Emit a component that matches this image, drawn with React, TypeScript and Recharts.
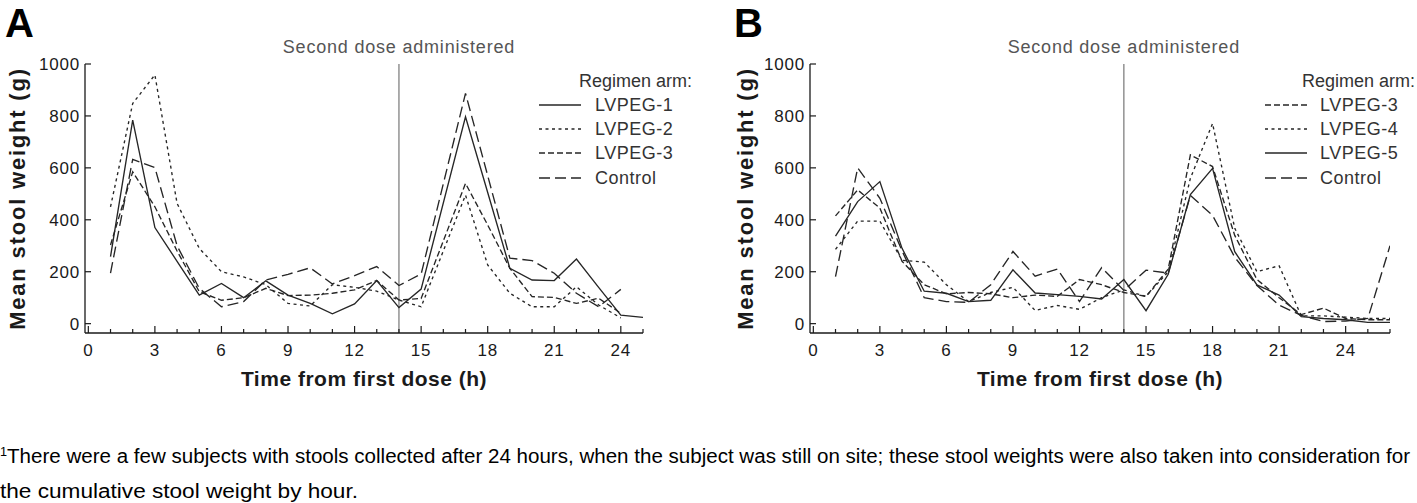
import React from 'react';
import { LineChart, Line, XAxis, YAxis, ReferenceLine, Label } from 'recharts';

const FONT = '"Liberation Sans", Arial, Helvetica, sans-serif';
const INK = '#1a1a1a';
const LINE = '#262626';

// dash styles used by both panels
const SOLID = undefined;
const SHORT = '3 3.5';
const MEDIUM = '6 3';
const LONG = '11 5';

// Panel A – hours 1..25 (nothing plotted at 16 h)
const hoursA = [1, 2, 3, 4, 5, 6, 7, 8, 9, 10, 11, 12, 13, 14, 15, 16, 17, 18, 19, 20, 21, 22, 23, 24, 25];
const lvpeg1A = [258, 784, 370, 240, 110, 155, 100, 165, 110, 78, 38, 76, 166, 62, 133, null, 797, 505, 213, 168, 166, 249, 140, 33, 24];
const lvpeg2A = [450, 848, 958, 463, 290, 200, 180, 150, 78, 68, 150, 140, 125, 91, 65, null, 495, 226, 117, 65, 65, 142, 72, 22, null];
const lvpeg3A = [303, 585, 450, 280, 123, 90, 100, 136, 108, 110, 117, 130, 166, 91, 97, null, 540, 380, 213, 104, 101, 78, 98, 40, null];
const controlA = [195, 633, 601, 300, 136, 65, 85, 168, 190, 215, 153, 185, 220, 147, 191, null, 887, 570, 252, 243, 194, 117, 65, 132, null];

// Panel B – hours 1..26
const hoursB = [1, 2, 3, 4, 5, 6, 7, 8, 9, 10, 11, 12, 13, 14, 15, 16, 17, 18, 19, 20, 21, 22, 23, 24, 25, 26];
const lvpeg3B = [415, 515, 445, 240, 150, 115, 120, 115, 100, 110, 105, 170, 150, 120, 105, 210, 650, 605, 340, 170, 100, 35, 60, 20, 15, 15];
const lvpeg4B = [286, 395, 395, 244, 237, 150, 85, 120, 140, 51, 70, 55, 100, 130, 105, 200, 560, 771, 367, 200, 223, 30, 30, 25, 20, 20];
const lvpeg5B = [337, 470, 547, 290, 125, 117, 85, 90, 207, 118, 112, 105, 95, 170, 50, 190, 497, 598, 277, 149, 110, 27, 20, 15, 5, 5];
const controlB = [181, 600, 483, 280, 100, 85, 82, 150, 278, 183, 210, 85, 216, 128, 206, 195, 494, 417, 256, 147, 71, 32, 8, 10, 20, 300];

const xTicksA = [0, 1, 2, 3, 4, 5, 6, 7, 8, 9, 10, 11, 12, 13, 14, 15, 16, 17, 18, 19, 20, 21, 22, 23, 24, 25];
const xTicksB = [0, 1, 2, 3, 4, 5, 6, 7, 8, 9, 10, 11, 12, 13, 14, 15, 16, 17, 18, 19, 20, 21, 22, 23, 24, 25, 26];
const yTicks = [0, 200, 400, 600, 800, 1000];

const seriesA = [
  { key: 'lvpeg1', name: 'LVPEG-1', values: lvpeg1A, dash: SOLID },
  { key: 'lvpeg2', name: 'LVPEG-2', values: lvpeg2A, dash: SHORT },
  { key: 'lvpeg3', name: 'LVPEG-3', values: lvpeg3A, dash: MEDIUM },
  { key: 'control', name: 'Control', values: controlA, dash: LONG },
];
const seriesB = [
  { key: 'lvpeg3', name: 'LVPEG-3', values: lvpeg3B, dash: MEDIUM },
  { key: 'lvpeg4', name: 'LVPEG-4', values: lvpeg4B, dash: SHORT },
  { key: 'lvpeg5', name: 'LVPEG-5', values: lvpeg5B, dash: SOLID },
  { key: 'control', name: 'Control', values: controlB, dash: LONG },
];

type Series = { key: string; name: string; values: (number | null)[]; dash?: string };

const buildRows = (hours: number[], series: Series[]) =>
  hours.map((h, i) => {
    const row: Record<string, number | null> = { h };
    series.forEach((s) => {
      row[s.key] = s.values[i];
    });
    return row;
  });

const XTick = (props: any) => {
  const { x, y, payload } = props;
  const h = payload.value;
  const major = h % 3 === 0;
  return (
    <g>
      <line x1={x} x2={x} y1={y} y2={y - (major ? 7 : 4)} stroke={INK} strokeWidth={1.2} />
      {major && h <= 24 ? (
        <text x={x} y={y + 23} textAnchor="middle" fontSize={17} fill={INK} fontFamily={FONT} style={{ letterSpacing: 0.8 }}>
          {h}
        </text>
      ) : null}
    </g>
  );
};

const YTick = (props: any) => {
  const { x, y, payload } = props;
  return (
    <g>
      <line x1={x} x2={x + 6} y1={y} y2={y} stroke={INK} strokeWidth={1.2} />
      <text x={x - 5} y={y + 6} textAnchor="end" fontSize={17} fill={INK} fontFamily={FONT} style={{ letterSpacing: 0.8 }}>
        {payload.value}
      </text>
    </g>
  );
};

function Panel({
  series,
  hours,
  xTicks,
  xMax,
  left,
  width,
  rightMargin,
  titleOffset,
}: {
  series: Series[];
  hours: number[];
  xTicks: number[];
  xMax: number;
  left: number;
  width: number;
  rightMargin: number;
  titleOffset: number;
}) {
  const rows = buildRows(hours, series);
  return (
    <div style={{ position: 'absolute', left, top: 0 }}>
      <LineChart width={width} height={400} data={rows} margin={{ top: 64, right: rightMargin, bottom: 7, left: 0 }}>
        <XAxis
          dataKey="h"
          type="number"
          domain={[-0.15, xMax]}
          ticks={xTicks}
          interval={0}
          allowDataOverflow
          height={60}
          tickSize={0}
          tickMargin={0}
          tickLine={false}
          tick={<XTick />}
          axisLine={{ stroke: INK, strokeWidth: 1.3 }}
        >
          <Label
            value="Time from first dose (h)"
            position="insideBottom"
            offset={7}
            style={{ fontFamily: FONT, fontSize: 21, fontWeight: 'bold', fill: INK, letterSpacing: 0.5 }}
          />
        </XAxis>
        <YAxis
          type="number"
          domain={[-36, 1000]}
          ticks={yTicks}
          interval={0}
          allowDataOverflow
          width={85}
          tickSize={0}
          tickMargin={0}
          tickLine={false}
          tick={<YTick />}
          axisLine={{ stroke: INK, strokeWidth: 1.3 }}
        >
          <Label
            value="Mean stool weight (g)"
            angle={-90}
            position="insideLeft"
            offset={titleOffset}
            style={{ fontFamily: FONT, fontSize: 22, fontWeight: 'bold', fill: INK, textAnchor: 'middle', letterSpacing: 1.8 }}
          />
        </YAxis>
        <ReferenceLine
          x={14}
          stroke="#8a8a8a"
          strokeWidth={1.4}
          label={{
            value: 'Second dose administered',
            position: 'top',
            offset: 11,
            style: { fontFamily: FONT, fontSize: 18, fill: '#555', letterSpacing: 0.8 },
          }}
        />
        {series.map((s) => (
          <Line
            key={s.key}
            dataKey={s.key}
            type="linear"
            stroke={LINE}
            strokeWidth={1.35}
            strokeDasharray={s.dash}
            dot={false}
            connectNulls
            isAnimationActive={false}
          />
        ))}
      </LineChart>
    </div>
  );
}

function LegendBlock({ series, headerX, lineX, textX }: { series: Series[]; headerX: number; lineX: number; textX: number }) {
  const rowY = [105, 129, 153, 178];
  return (
    <g fontFamily={FONT} fontSize={18} fill="#333">
      <text x={headerX} y={87}>Regimen arm:</text>
      {series.map((s, i) => (
        <g key={s.key}>
          <line x1={lineX} x2={lineX + 42} y1={rowY[i]} y2={rowY[i]} stroke={LINE} strokeWidth={1.3} strokeDasharray={s.dash} />
          <text x={textX} y={rowY[i] + 6} style={{ letterSpacing: 0.5 }}>{s.name}</text>
        </g>
      ))}
    </g>
  );
}

export default function App() {
  return (
    <div style={{ position: 'absolute', left: 0, top: 0, width: 1417, height: 503, background: '#fff', overflow: 'hidden' }}>
      <Panel series={seriesA} hours={hoursA} xTicks={xTicksA} xMax={25} left={0} width={710} rightMargin={67} titleOffset={17} />
      <Panel series={seriesB} hours={hoursB} xTicks={xTicksB} xMax={26} left={725} width={692} rightMargin={27} titleOffset={20} />
      <svg width={1417} height={503} style={{ position: 'absolute', left: 0, top: 0, pointerEvents: 'none' }}>
        <text x={5} y={37} fontFamily={FONT} fontSize={40} fontWeight="bold" fill="#000">A</text>
        <text x={734} y={37} fontFamily={FONT} fontSize={40} fontWeight="bold" fill="#000">B</text>
        <LegendBlock series={seriesA} headerX={579} lineX={539} textX={595} />
        <LegendBlock series={seriesB} headerX={1302} lineX={1265} textX={1320} />
        <text x={0} y={463} fontFamily={FONT} fontSize={19.5} fill="#000" textLength={1410} lengthAdjust="spacingAndGlyphs">
          <tspan fontSize={12} dy={-7}>1</tspan>
          <tspan dy={7}>There were a few subjects with stools collected after 24 hours, when the subject was still on site; these stool weights were also taken into consideration for</tspan>
        </text>
        <text x={0} y={498} fontFamily={FONT} fontSize={19.5} fill="#000" textLength={358} lengthAdjust="spacingAndGlyphs">
          the cumulative stool weight by hour.
        </text>
      </svg>
    </div>
  );
}
